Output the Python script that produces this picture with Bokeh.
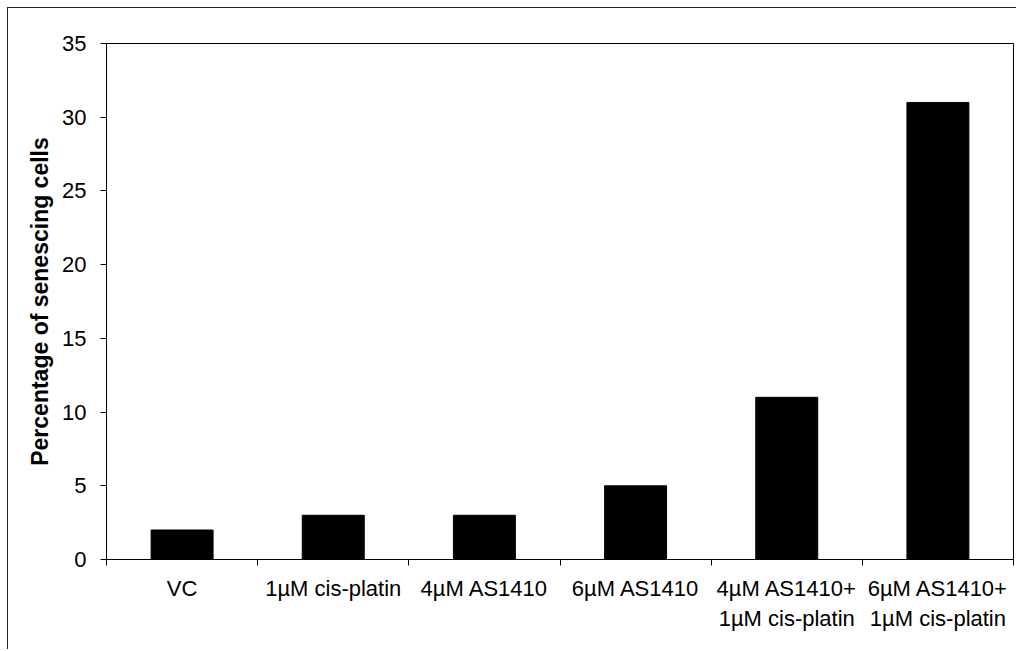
import numpy as np
from bokeh.plotting import figure
from bokeh.models import FixedTicker, CustomJSTickFormatter, Range1d
from bokeh.embed import file_html
from bokeh.resources import INLINE

# ---- data ----
categories = ["VC", "1µM cis-platin", "4µM AS1410", "6µM AS1410",
              "4µM AS1410+\n1µM cis-platin", "6µM AS1410+\n1µM cis-platin"]
values = [2, 3, 3, 5, 11, 31]
y_ticks = [0, 5, 10, 15, 20, 25, 30, 35]

n = len(categories)
centers = list(np.arange(n) + 0.5)
bounds = list(np.arange(n + 1))

FONT = "Liberation Sans"

p = figure(width=1009, height=642, output_backend="svg", toolbar_location=None,
           x_range=Range1d(0, n), y_range=Range1d(0, 35),
           min_border_left=98, min_border_right=4, min_border_top=35, min_border_bottom=91)
p.styles = {"border-left": "1px solid #222", "border-top": "1px solid #222",
            "margin-left": "7px", "margin-top": "7px"}

p.vbar(x=centers, top=values, width=0.41, fill_color="black", line_color="black")

p.grid.visible = False
p.outline_line_color = "black"
p.outline_line_width = 1
p.background_fill_color = "white"
p.border_fill_color = "white"

# x axis
xa = p.xaxis[0]
xa.ticker = FixedTicker(ticks=centers, minor_ticks=bounds)
xa.formatter = CustomJSTickFormatter(args=dict(labels=categories),
                                     code="return labels[Math.floor(tick)];")
xa.major_tick_out = 0
xa.major_tick_in = 0
xa.minor_tick_out = 6
xa.minor_tick_in = 0
xa.minor_tick_line_color = "black"
xa.axis_line_color = "black"
xa.major_label_standoff = 10
xa.major_label_text_font = FONT
xa.major_label_text_font_size = "22px"
xa.major_label_text_color = "black"

# y axis
ya = p.yaxis[0]
ya.ticker = FixedTicker(ticks=y_ticks)
ya.minor_tick_line_color = None
ya.major_tick_out = 6
ya.major_tick_in = 0
ya.major_tick_line_color = "black"
ya.axis_line_color = "black"
ya.major_label_standoff = 14
ya.major_label_text_font = FONT
ya.major_label_text_font_size = "22px"
ya.major_label_text_color = "black"
ya.axis_label = "Percentage of senescing cells"
ya.axis_label_text_font = FONT
ya.axis_label_text_font_size = "23px"
ya.axis_label_text_font_style = "bold"
ya.axis_label_text_color = "black"
ya.axis_label_standoff = 6

open("out.html", "w").write(file_html(p, INLINE))
